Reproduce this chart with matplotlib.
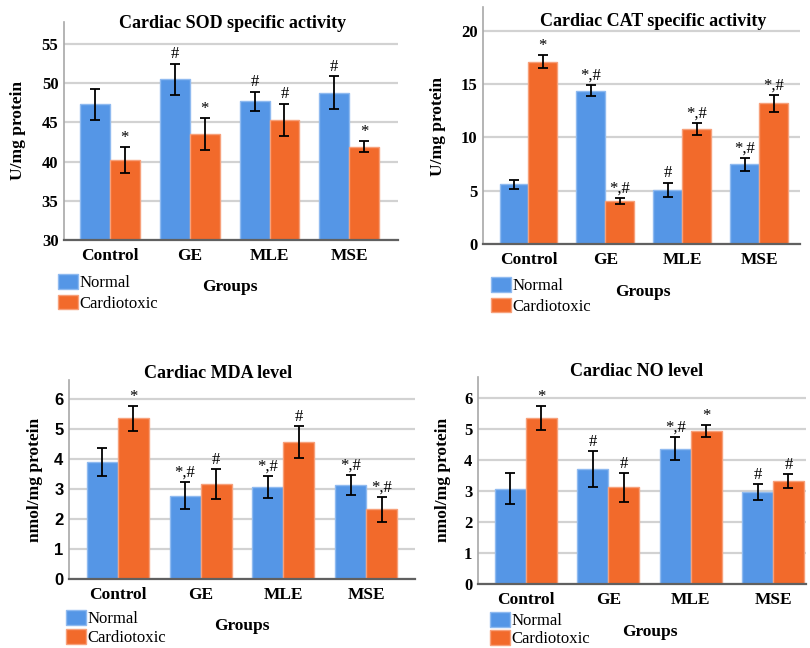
import matplotlib
matplotlib.use("Agg")
import matplotlib.pyplot as plt
import numpy as np

groups = ["Control", "GE", "MLE", "MSE"]
series = ["Normal", "Cardiotoxic"]

# Cardiac SOD specific activity (U/mg protein)
sod_normal = [47.3, 50.5, 47.7, 48.8]
sod_normal_err = [2.0, 2.0, 1.2, 2.1]
sod_cardio = [40.2, 43.5, 45.3, 41.9]
sod_cardio_err = [1.6, 2.0, 2.1, 0.7]
sod_marks_normal = ["", "#", "#", "#"]
sod_marks_cardio = ["*", "*", "#", "*"]

# Cardiac CAT specific activity (U/mg protein)
cat_normal = [5.6, 14.4, 5.1, 7.5]
cat_normal_err = [0.4, 0.55, 0.65, 0.6]
cat_cardio = [17.1, 4.05, 10.8, 13.2]
cat_cardio_err = [0.6, 0.3, 0.6, 0.8]
cat_marks_normal = ["", "*,#", "#", "*,#"]
cat_marks_cardio = ["*", "*,#", "*,#", "*,#"]

# Cardiac MDA level (nmol/mg protein)
mda_normal = [3.9, 2.78, 3.07, 3.14]
mda_normal_err = [0.47, 0.45, 0.37, 0.33]
mda_cardio = [5.37, 3.17, 4.58, 2.33]
mda_cardio_err = [0.41, 0.49, 0.52, 0.41]
mda_marks_normal = ["", "*,#", "*,#", "*,#"]
mda_marks_cardio = ["*", "#", "#", "*,#"]

# Cardiac NO level (nmol/mg protein)
no_normal = [3.08, 3.71, 4.37, 2.97]
no_normal_err = [0.5, 0.58, 0.36, 0.26]
no_cardio = [5.35, 3.12, 4.93, 3.32]
no_cardio_err = [0.39, 0.46, 0.19, 0.23]
no_marks_normal = ["", "#", "*,#", "#"]
no_marks_cardio = ["*", "#", "*", "#"]

BLUE = "#5596e6"
ORANGE = "#f26a2b"
SERIF = "Liberation Serif"
SANS = "Liberation Sans"

W, H = 810, 648
fig = plt.figure(figsize=(W / 100, H / 100), dpi=100)


def fx(x):
    return x / W


def fy(y):
    return 1 - y / H


def draw_panel(box, xlim, ylim, yticks, normal, nerr, cardio, cerr,
               nmarks, cmarks, title, title_xy, ylabel, ylabel_xy,
               legend_xy, groups_xy, tick_font=SERIF, leg_space=0.2):
    x0, y0, x1, y1 = box
    ax = fig.add_axes([fx(x0), fy(y1), (x1 - x0) / W, (y1 - y0) / H])
    x = np.arange(len(groups))
    w = 0.375
    ekw = dict(ecolor="black", elinewidth=1.3, capsize=3.5, capthick=1.3)
    b1 = ax.bar(x - w / 2, normal, w, yerr=nerr, color=BLUE,
                edgecolor="#8fbaf0", linewidth=1, error_kw=ekw, label=series[0])
    b2 = ax.bar(x + w / 2, cardio, w, yerr=cerr, color=ORANGE,
                edgecolor="#f7a07a", linewidth=1, error_kw=ekw, label=series[1])
    for xs, vals, errs, marks in [(x - w / 2, normal, nerr, nmarks),
                                  (x + w / 2, cardio, cerr, cmarks)]:
        for xi, v, e, m in zip(xs, vals, errs, marks):
            if m:
                ax.annotate(m, (xi, v + e), xytext=(0, 1),
                            textcoords="offset points", ha="center",
                            va="bottom", fontsize=12, family=SERIF)
    ax.set_xlim(*xlim)
    ax.set_ylim(*ylim)
    ax.set_yticks(yticks)
    ax.set_xticks(x)
    ax.set_xticklabels(groups, family=SERIF, fontweight="bold", fontsize=12.5)
    ax.set_yticklabels([str(t) for t in yticks], family=tick_font,
                       fontweight="bold", fontsize=12)
    ax.tick_params(axis="x", length=0, pad=6)
    ax.tick_params(axis="y", length=0, pad=4)
    ax.grid(axis="y", color="#d2d2d2", linewidth=1.6)
    ax.set_axisbelow(True)
    for s in ["top", "right"]:
        ax.spines[s].set_visible(False)
    ax.spines["left"].set_color("#a8a8a8")
    ax.spines["left"].set_linewidth(1.2)
    ax.spines["bottom"].set_color("#606060")
    ax.spines["bottom"].set_linewidth(1.6)

    fig.text(fx(title_xy[0]), fy(title_xy[1]), title, ha="center", va="center",
             family=SERIF, fontweight="bold", fontsize=13)
    fig.text(fx(ylabel_xy[0]), fy(ylabel_xy[1]), ylabel, ha="center",
             va="center", rotation=90, family=SERIF, fontweight="bold",
             fontsize=12.5)
    fig.text(fx(groups_xy[0]), fy(groups_xy[1]), "Groups", ha="center",
             va="center", family=SERIF, fontweight="bold", fontsize=12.5)
    ax.legend(handles=[b1, b2], loc="upper left",
              bbox_to_anchor=(fx(legend_xy[0]), fy(legend_xy[1])),
              bbox_transform=fig.transFigure, frameon=False,
              prop=dict(family=SERIF, size=12), handlelength=1.2,
              handleheight=1.0, handletextpad=0.1, labelspacing=leg_space,
              borderpad=0, borderaxespad=0)
    return ax


draw_panel((64, 22, 398, 240), (-0.575, 3.61), (30, 57.8), [30, 35, 40, 45, 50, 55],
           sod_normal, sod_normal_err, sod_cardio, sod_cardio_err,
           sod_marks_normal, sod_marks_cardio,
           "Cardiac SOD specific activity", (233, 23),
           "U/mg protein", (18, 131), (58, 274), (230, 287))

draw_panel((483, 7, 800, 244), (-0.59, 3.53), (0, 22.25), [0, 5, 10, 15, 20],
           cat_normal, cat_normal_err, cat_cardio, cat_cardio_err,
           cat_marks_normal, cat_marks_cardio,
           "Cardiac CAT specific activity", (653, 21),
           "U/mg protein", (438, 126), (491, 277), (643, 292))

draw_panel((69, 380, 415, 579), (-0.59, 3.59), (0, 6.65), [0, 1, 2, 3, 4, 5, 6],
           mda_normal, mda_normal_err, mda_cardio, mda_cardio_err,
           mda_marks_normal, mda_marks_cardio,
           "Cardiac MDA level", (218, 374),
           "nmol/mg protein", (35, 480), (66, 610), (242, 626),
           tick_font=SANS, leg_space=0.1)

draw_panel((478, 377, 806, 584), (-0.58, 3.4), (0, 6.68), [0, 1, 2, 3, 4, 5, 6],
           no_normal, no_normal_err, no_cardio, no_cardio_err,
           no_marks_normal, no_marks_cardio,
           "Cardiac NO level", (637, 371),
           "nmol/mg protein", (443, 480), (490, 612), (650, 632),
           leg_space=0.05)

fig.savefig("out.png", dpi=100)
